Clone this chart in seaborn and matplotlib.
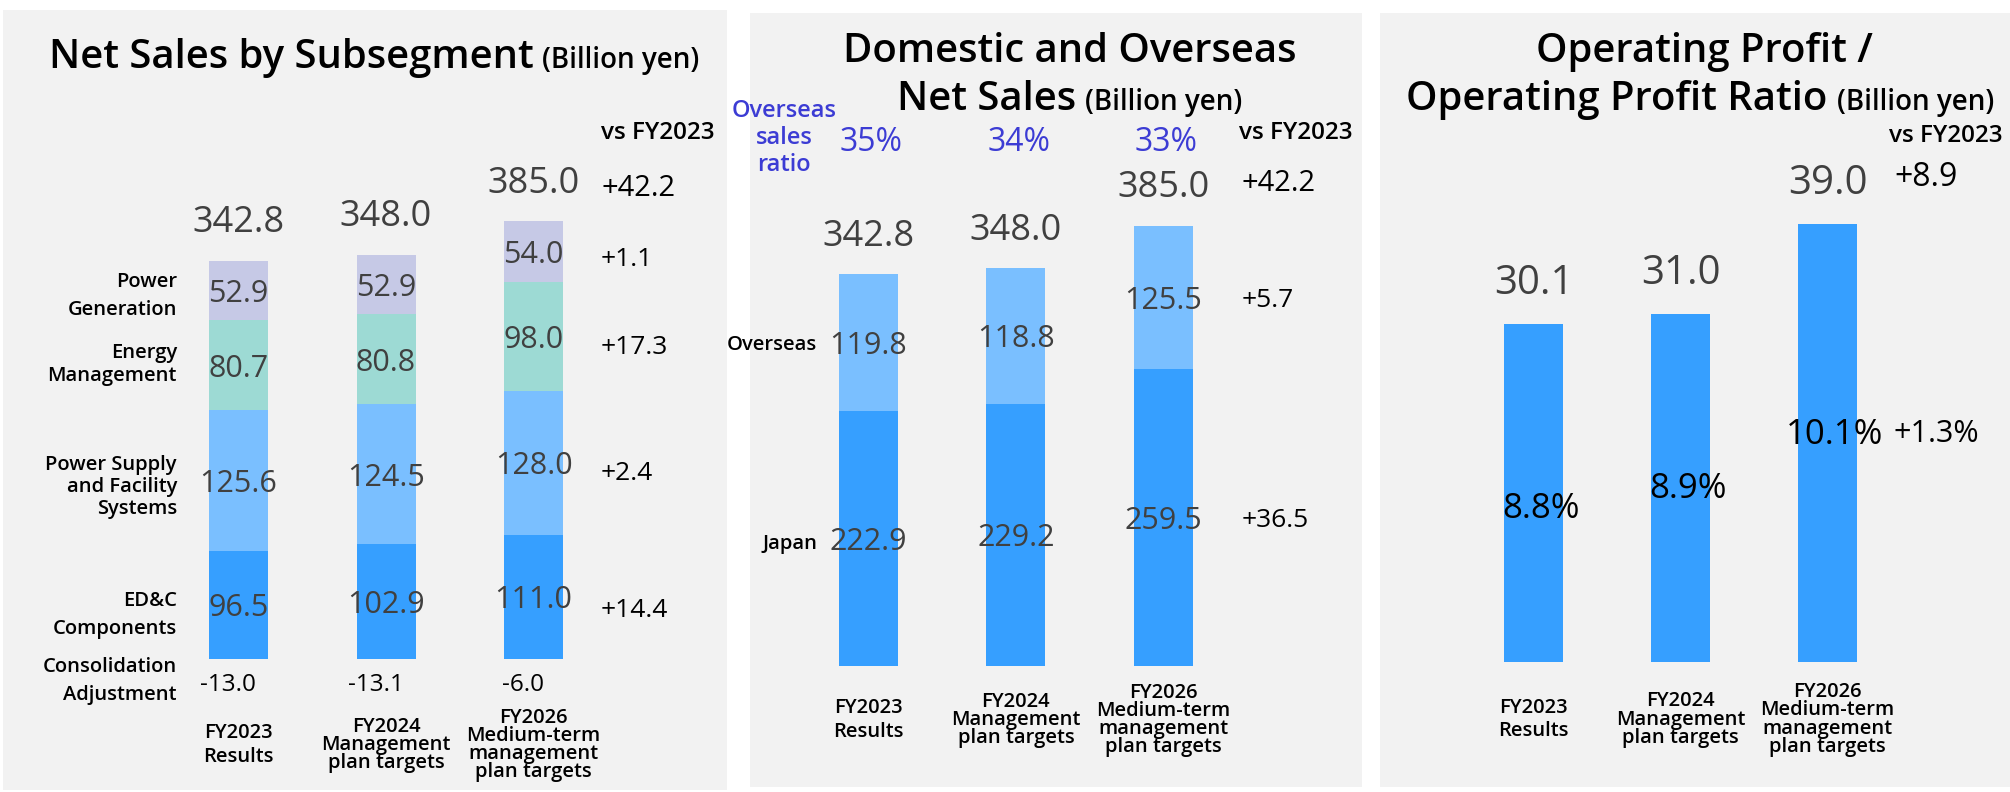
import numpy as np
import pandas as pd
import matplotlib
matplotlib.use("Agg")
import matplotlib.pyplot as plt
import seaborn as sns

# ---- data (billion yen) ----
periods = ["FY2023", "FY2024", "FY2026"]
period_labels = ["FY2023\nResults",
                 "FY2024\nManagement\nplan targets",
                 "FY2026\nMedium-term\nmanagement\nplan targets"]

# net sales by subsegment, stacked bottom -> top
edc_components = [96.5, 102.9, 111.0]
power_supply = [125.6, 124.5, 128.0]
energy_mgmt = [80.7, 80.8, 98.0]
power_generation = [52.9, 52.9, 54.0]
consolidation_adj = [-13.0, -13.1, -6.0]
net_sales = [342.8, 348.0, 385.0]
subsegment_names = ["ED&C\nComponents", "Power Supply\nand Facility\nSystems",
                    "Energy\nManagement", "Power\nGeneration"]
subsegment_change = [14.4, 2.4, 17.3, 1.1]
net_sales_change = 42.2

# domestic / overseas
japan_sales = [222.9, 229.2, 259.5]
overseas_sales = [119.8, 118.8, 125.5]
overseas_ratio = [35, 34, 33]
japan_change = 36.5
overseas_change = 5.7

# operating profit
op_profit = [30.1, 31.0, 39.0]
op_margin = [8.8, 8.9, 10.1]
op_profit_change = 8.9
op_margin_change = 1.3

# ---- style ----
W, H = 2010, 792
BG = "#f2f2f2"
NUM = "#404040"
BLUE_TXT = "#3c3cd4"
seg_colors = ["#369fff", "#7abfff", "#9ddad4", "#c6c9e6"]

sns.set_theme(style="white")
plt.rcParams["font.family"] = ["Open Sans", "DejaVu Sans"]
plt.rcParams["text.color"] = "black"

fig = plt.figure(figsize=(W / 100, H / 100), dpi=100)
fig.patch.set_facecolor("white")


def make_panel(rect, c0, step, base, scale):
    # rect in pixels (left, top, right, bottom); c0/step place the categories,
    # base/scale place the value axis
    x0, y0, x1, y1 = rect
    ax = fig.add_axes([x0 / W, 1 - y1 / H, (x1 - x0) / W, (y1 - y0) / H])
    ax.set_facecolor(BG)
    lims = ((x0 - c0) / step, (x1 - c0) / step), ((base - y1) / scale, (base - y0) / scale)
    return ax, lims


def finish(ax, lims):
    ax.set_xlim(*lims[0])
    ax.set_ylim(*lims[1])
    ax.set_xticks([])
    ax.set_yticks([])
    ax.set_xlabel("")
    ax.set_ylabel("")
    for sp in ax.spines.values():
        sp.set_visible(False)


def title_line(cx, base_y, big, small=None, gap=9):
    r = fig.canvas.get_renderer()
    tb = fig.text(0, 1 - base_y / H, big, fontsize=28.8, weight="semibold",
                  va="baseline", color="black")
    wb = tb.get_window_extent(r).width
    ts, ws = None, 0
    if small:
        ts = fig.text(0, 1 - base_y / H, small, fontsize=20, weight="semibold",
                      va="baseline", color="black")
        ws = ts.get_window_extent(r).width + gap
    left = cx - (wb + ws) / 2
    tb.set_x(left / W)
    if ts is not None:
        ts.set_x((left + wb + gap) / W)


def x_labels(ax, y, spacings):
    for i, lab in enumerate(period_labels):
        ax.text(i, y, lab, ha="center", va="center", fontsize=14.5, weight="semibold",
                linespacing=spacings[i], color="black")


# ================= panel 1: net sales by subsegment =================
ax1, lims1 = make_panel((3, 10, 727, 790), 238.5, 147.5, 659, 1.12)
layers = np.array([edc_components, power_supply, energy_mgmt, power_generation])
stack = np.cumsum(layers, axis=0)
bottoms = stack - layers
for level, color in reversed(list(zip(stack, seg_colors))):
    sns.barplot(x=periods, y=level, order=periods, color=color, width=0.4,
                saturation=1, errorbar=None, linewidth=0, ax=ax1)
for j in range(len(layers)):
    for i, v in enumerate(layers[j]):
        ax1.text(i, bottoms[j][i] + v / 2, f"{v:.1f}", ha="center", va="center_baseline",
                 fontsize=22, color=NUM)
for i, v in enumerate(net_sales):
    ax1.text(i, stack[-1][i] + 37.5, f"{v:.1f}", ha="center", va="center_baseline",
             fontsize=26, color=NUM)
for i, v in enumerate(consolidation_adj):
    ax1.text(i - 0.07, -20.5, f"{v:.1f}", ha="center", va="center_baseline",
             fontsize=17.5, color="black")

name_y = [39.3, 153.6, 263, 324]
name_ls = [1.5, 1.14, 1.24, 1.55]
for name, y, ls in zip(subsegment_names, name_y, name_ls):
    ax1.text(-0.417, y, name, ha="right", va="center", fontsize=14.5, weight="semibold",
             linespacing=ls, color="black")
ax1.text(-0.417, -19.6, "Consolidation\nAdjustment", ha="right", va="center",
         fontsize=14.5, weight="semibold", linespacing=1.55, color="black")

change_y = [46.4, 168.75, 280.8, 359]
ax1.text(2.458, 472, "vs FY2023", ha="left", va="center_baseline", fontsize=17.5,
         weight="semibold", color="black")
ax1.text(2.458, 423, f"{net_sales_change:+.1f}", ha="left", va="center_baseline",
         fontsize=21, color="black")
for v, y in zip(subsegment_change, change_y):
    ax1.text(2.458, y, f"{v:+.1f}", ha="left", va="center_baseline", fontsize=19,
             color="black")
x_labels(ax1, -76.8, [1.25, 0.88, 0.88])
finish(ax1, lims1)

# ================= panel 2: domestic and overseas =================
ax2, lims2 = make_panel((750, 13, 1362, 787), 868.5, 147.4, 665.5, 1.142)
region_total = np.array(japan_sales) + np.array(overseas_sales)
sns.barplot(x=periods, y=region_total, order=periods, color=seg_colors[1], width=0.4,
            saturation=1, errorbar=None, linewidth=0, ax=ax2)
sns.barplot(x=periods, y=japan_sales, order=periods, color=seg_colors[0], width=0.4,
            saturation=1, errorbar=None, linewidth=0, ax=ax2)
for i in range(len(periods)):
    ax2.text(i, japan_sales[i] / 2, f"{japan_sales[i]:.1f}", ha="center",
             va="center_baseline", fontsize=22, color=NUM)
    ax2.text(i, japan_sales[i] + overseas_sales[i] / 2, f"{overseas_sales[i]:.1f}",
             ha="center", va="center_baseline", fontsize=22, color=NUM)
    ax2.text(i, region_total[i] + 36.8, f"{net_sales[i]:.1f}", ha="center",
             va="center_baseline", fontsize=26, color=NUM)
    ax2.text(i + 0.02, 461.9, f"{overseas_ratio[i]}%", ha="center", va="center_baseline",
             fontsize=23, weight="medium", color=BLUE_TXT)
ax2.text(-0.573, 461.9, "Overseas\nsales\nratio", ha="center", va="center", fontsize=17,
         weight="semibold", color=BLUE_TXT, linespacing=1.15)
ax2.text(-0.349, overseas_sales[0] / 2 + japan_sales[0], "Overseas", ha="right",
         va="center_baseline", fontsize=14.5, weight="semibold", color="black")
ax2.text(-0.349, japan_sales[0] / 2 - 3, "Japan", ha="right", va="center_baseline",
         fontsize=14.5, weight="semibold", color="black")
ax2.text(2.514, 469, "vs FY2023", ha="left", va="center_baseline", fontsize=17.5,
         weight="semibold", color="black")
ax2.text(2.532, 425, f"{net_sales_change:+.1f}", ha="left", va="center_baseline",
         fontsize=21, color="black")
ax2.text(2.532, japan_sales[-1] + overseas_sales[-1] / 2, f"{overseas_change:+.1f}",
         ha="left", va="center_baseline", fontsize=19, color="black")
ax2.text(2.532, japan_sales[-1] / 2, f"{japan_change:+.1f}", ha="left",
         va="center_baseline", fontsize=19, color="black")
x_labels(ax2, -47.7, [1.25, 0.88, 0.88])
finish(ax2, lims2)

# ================= panel 3: operating profit =================
ax3, lims3 = make_panel((1380, 13, 2010, 787), 1533.5, 147, 662.2, 11.236)
sns.barplot(x=periods, y=op_profit, order=periods, color=seg_colors[0], width=0.4,
            saturation=1, errorbar=None, linewidth=0, ax=ax3)
margin_y = [14.0, 15.8, 20.6]
for i, v in enumerate(op_profit):
    ax3.text(i, v + 4.0, f"{v:.1f}", ha="center", va="center_baseline", fontsize=29,
             color=NUM)
    ax3.text(i + 0.05, margin_y[i], f"{op_margin[i]:.1f}%", ha="center",
             va="center_baseline", fontsize=25, color="black")
ax3.text(2.452, margin_y[-1], f"{op_margin_change:+.1f}%", ha="left", va="center_baseline",
         fontsize=22, color="black")
ax3.text(2.418, 47.1, "vs FY2023", ha="left", va="center_baseline", fontsize=17.5,
         weight="semibold", color="black")
ax3.text(2.452, 43.5, f"{op_profit_change:+.1f}", ha="left", va="center_baseline",
         fontsize=23, color="black")
x_labels(ax3, -5.1, [1.25, 0.88, 0.88])
finish(ax3, lims3)

# ---- titles ----
title_line(374, 68, "Net Sales by Subsegment", "(Billion yen)")
title_line(1070, 62, "Domestic and Overseas")
title_line(1070, 110, "Net Sales", "(Billion yen)")
title_line(1704, 62, "Operating Profit /")
title_line(1700, 110, "Operating Profit Ratio", "(Billion yen)")

fig.savefig("out.png", dpi=100, facecolor="white")
